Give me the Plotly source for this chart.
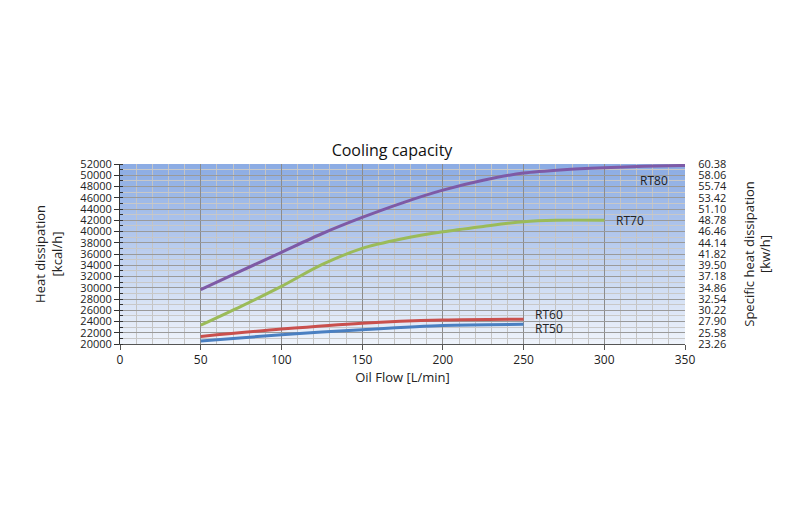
import plotly.graph_objects as go
import numpy as np

flow = [50, 75, 100, 125, 150, 175, 200, 225, 250, 275, 300, 325, 350]
rt80 = [29650, 33000, 36300, 39600, 42500, 45100, 47350, 49100, 50400, 51000, 51350, 51600, 51750]
flow70 = [50, 75, 100, 125, 150, 175, 200, 225, 250, 270, 300]
rt70 = [23350, 26700, 30250, 34100, 37000, 38700, 39950, 40900, 41750, 42000, 42000]
flow_low = [50, 100, 150, 200, 250]
rt60 = [21350, 22650, 23700, 24250, 24400]
rt50 = [20550, 21650, 22550, 23300, 23500]

y_ticks = list(range(20000, 52001, 2000))
y2_labels = ["23.26", "25.58", "27.90", "30.22", "32.54", "34.86", "37.18", "39.50",
             "41.82", "44.14", "46.46", "48.78", "51.10", "53.42", "55.74", "58.06", "60.38"]
x_ticks = [0, 50, 100, 150, 200, 250, 300, 350]

font = "Open Sans"
fig = go.Figure()

series = [
    ("RT80", flow, rt80, "#7e5aa6"),
    ("RT70", flow70, rt70, "#9bbb59"),
    ("RT60", flow_low, rt60, "#c9504d"),
    ("RT50", flow_low, rt50, "#4a7fc1"),
]
for name, xs, ys, col in series:
    fig.add_trace(go.Scatter(x=xs, y=ys, mode="lines", name=name,
                             line=dict(color=col, width=3, shape="spline", smoothing=0.8)))

# invisible trace for right axis
fig.add_trace(go.Scatter(x=[0], y=[23.26], yaxis="y2", mode="markers",
                         marker=dict(opacity=0), showlegend=False, hoverinfo="skip"))

# gradient background
n = 60
top = np.array([140, 172, 228])
bot = np.array([238, 243, 251])
shapes = []
for i in range(n):
    t = i / (n - 1)
    c = bot + (top - bot) * t
    shapes.append(dict(type="rect", xref="x domain", yref="y domain",
                       x0=0, x1=1, y0=i / n, y1=(i + 1) / n, layer="below",
                       line=dict(width=0), fillcolor=f"rgb({int(c[0])},{int(c[1])},{int(c[2])})"))

labels = [("RT80", 331, 49000), ("RT70", 316, 42000), ("RT60", 266, 25300), ("RT50", 266, 22700)]
annotations = [dict(x=x, y=y, text=t, showarrow=False, xref="x", yref="y",
                    font=dict(family=font, size=12, color="#222")) for t, x, y in labels]

fig.update_layout(
    width=800, height=530,
    margin=dict(l=112, r=123, t=156, b=194),
    paper_bgcolor="white", plot_bgcolor="rgba(0,0,0,0)",
    showlegend=False,
    shapes=shapes, annotations=annotations,
    title=dict(text="Cooling capacity", x=0.48, xanchor="center", y=0.732, yanchor="middle",
               font=dict(family=font, size=16, color="#111")),
    font=dict(family=font, size=11, color="#222"),
    xaxis=dict(range=[0, 350], tickvals=x_ticks, showgrid=True, gridcolor="#8c8c8c", gridwidth=1,
               minor=dict(dtick=10, showgrid=True, gridcolor="#c4c4c4", gridwidth=1),
               showline=True, linecolor="#555", ticks="outside", ticklen=5, tickcolor="#555",
               zeroline=False, automargin=False, tickfont=dict(size=12),
               title=dict(text="Oil Flow [L/min]", font=dict(family=font, size=13), standoff=2)),
    yaxis=dict(range=[20000, 52000], tickvals=y_ticks, tickformat="d",
               showgrid=True, gridcolor="#9a9a9a", gridwidth=1,
               minor=dict(dtick=1000, showgrid=True, gridcolor="#c8c8c8", gridwidth=1,
                          ticks="inside", ticklen=3, tickcolor="#333"),
               showline=True, linecolor="#333", ticks="outside", ticklen=5, tickcolor="#333",
               zeroline=False, automargin=False,
               title=dict(text="Heat dissipation<br>[kcal/h]", font=dict(family=font, size=13), standoff=14)),
    yaxis2=dict(range=[23.26, 60.38], overlaying="y", side="right",
                tickvals=[float(v) for v in y2_labels], ticktext=y2_labels,
                showgrid=False, zeroline=False, showline=False, ticks="outside", ticklen=10,
                tickcolor="rgba(0,0,0,0)", automargin=False,
                title=dict(text="Specific heat dissipation<br>[kw/h]", font=dict(family=font, size=13), standoff=18)),
)

fig.write_html("out.html")
